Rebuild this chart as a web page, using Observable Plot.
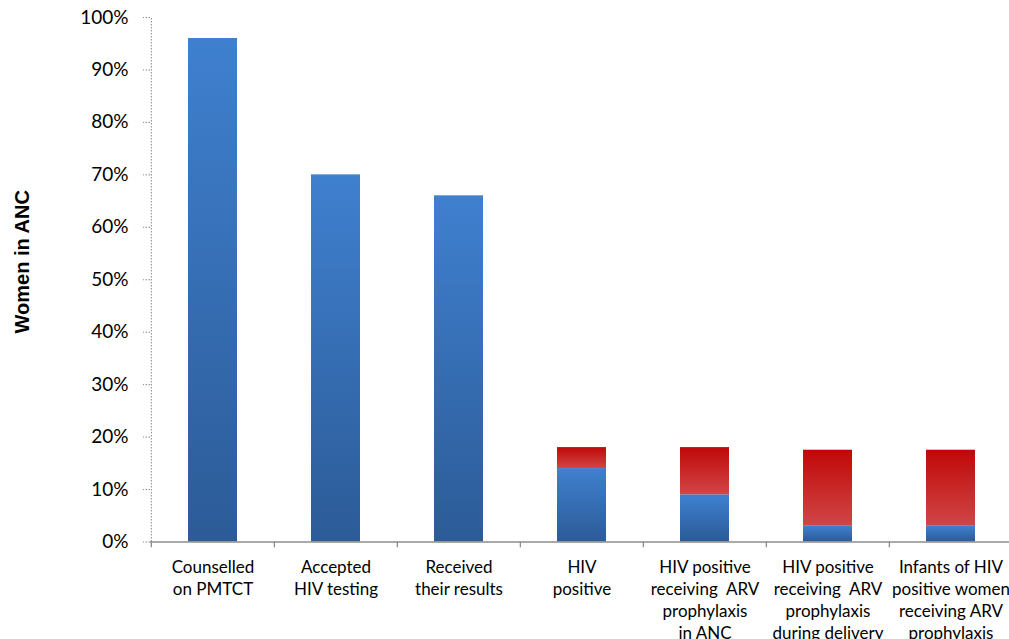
<!DOCTYPE html>
<html>
<head>
<meta charset="utf-8">
<script src="https://cdn.jsdelivr.net/npm/d3@7"></script>
<script src="https://cdn.jsdelivr.net/npm/@observablehq/plot@0.6"></script>
<style>
  html, body { margin: 0; padding: 0; background: #fff; overflow: hidden; }
  #chart { width: 1009px; height: 639px; overflow: hidden; }
</style>
</head>
<body>
<div id="chart"></div>
<script>
const categories = [
  "Counselled\non PMTCT",
  "Accepted\nHIV testing",
  "Received\ntheir results",
  "HIV\npositive",
  "HIV positive\nreceiving  ARV\nprophylaxis\nin ANC",
  "HIV positive\nreceiving  ARV\nprophylaxis\nduring delivery",
  "Infants of HIV\npositive women\nreceiving ARV\nprophylaxis"
];
const blueValues = [0.96, 0.70, 0.66, 0.14, 0.09, 0.03, 0.03];
const redValues  = [0, 0, 0, 0.04, 0.09, 0.145, 0.145];
const yTicks = [0, 0.1, 0.2, 0.3, 0.4, 0.5, 0.6, 0.7, 0.8, 0.9, 1.0];
const yTitle = "Women in ANC";

const rows = categories.map((c, i) => ({cat: c, blue: blueValues[i], red: redValues[i]}));
const redRows = rows.filter(d => d.red > 0);

const xRange = [150, 1013];
const halfStep = (xRange[1] - xRange[0]) / categories.length / 2;

const plot = Plot.plot({
  width: 1009,
  height: 639,
  marginTop: 17,
  marginBottom: 97.5,
  marginLeft: 150,
  marginRight: 0,
  style: {fontFamily: "Lato, 'Open Sans', sans-serif", fontSize: "18px", color: "#000", background: "#fff", overflow: "hidden"},
  x: {domain: categories, range: xRange, paddingInner: 0.6, paddingOuter: 0.3, axis: null},
  y: {domain: [0, 1], axis: null},
  marks: [
    Plot.barY(rows, {x: "cat", y1: 0, y2: "blue", fill: "url(#gBlue)"}),
    Plot.barY(redRows, {x: "cat", y1: "blue", y2: d => d.blue + d.red, fill: "url(#gRed)"}),
    // dotted y-axis line
    Plot.ruleX([categories[0]], {x: d => d, dx: -halfStep, y1: 0, y2: 1, stroke: "#8a8a8a", strokeDasharray: "1.5,1.5"}),
    Plot.axisY({ticks: yTicks, tickFormat: d3.format(".0%"), tickSize: 7, tickPadding: 15, stroke: "#8a8a8a", strokeDasharray: "1.5,1.5", fontSize: 19, fill: "#000", label: null}),
    // x-axis baseline and boundary ticks
    Plot.ruleY([0], {stroke: "#8c8c8c", strokeWidth: 1.6}),
    Plot.ruleX(categories, {x: d => d, dx: -halfStep, y1: 0, y2: -0.011, stroke: "#8c8c8c", strokeWidth: 1.3}),
    Plot.axisX({tickSize: 0, tickPadding: 16, fontSize: 17, lineHeight: 1.28, fill: "#000", label: null}),
    Plot.text([yTitle], {frameAnchor: "left", textAnchor: "middle", dx: -128, dy: -18, rotate: -90, text: d => d, fontWeight: "bold", fontFamily: "'Liberation Sans', Arial, sans-serif", fontSize: 20, fill: "#000"})
  ]
});

const svg = d3.select(plot);
const defs = svg.insert("defs", ":first-child");
const gb = defs.append("linearGradient").attr("id", "gBlue").attr("x1", 0).attr("y1", 0).attr("x2", 0).attr("y2", 1);
gb.append("stop").attr("offset", "0%").attr("stop-color", "#3f80cf");
gb.append("stop").attr("offset", "100%").attr("stop-color", "#2c5b97");
const gr = defs.append("linearGradient").attr("id", "gRed").attr("x1", 0).attr("y1", 0).attr("x2", 0).attr("y2", 1);
gr.append("stop").attr("offset", "0%").attr("stop-color", "#c00808");
gr.append("stop").attr("offset", "100%").attr("stop-color", "#d04646");

document.getElementById("chart").appendChild(plot);
</script>
</body>
</html>
